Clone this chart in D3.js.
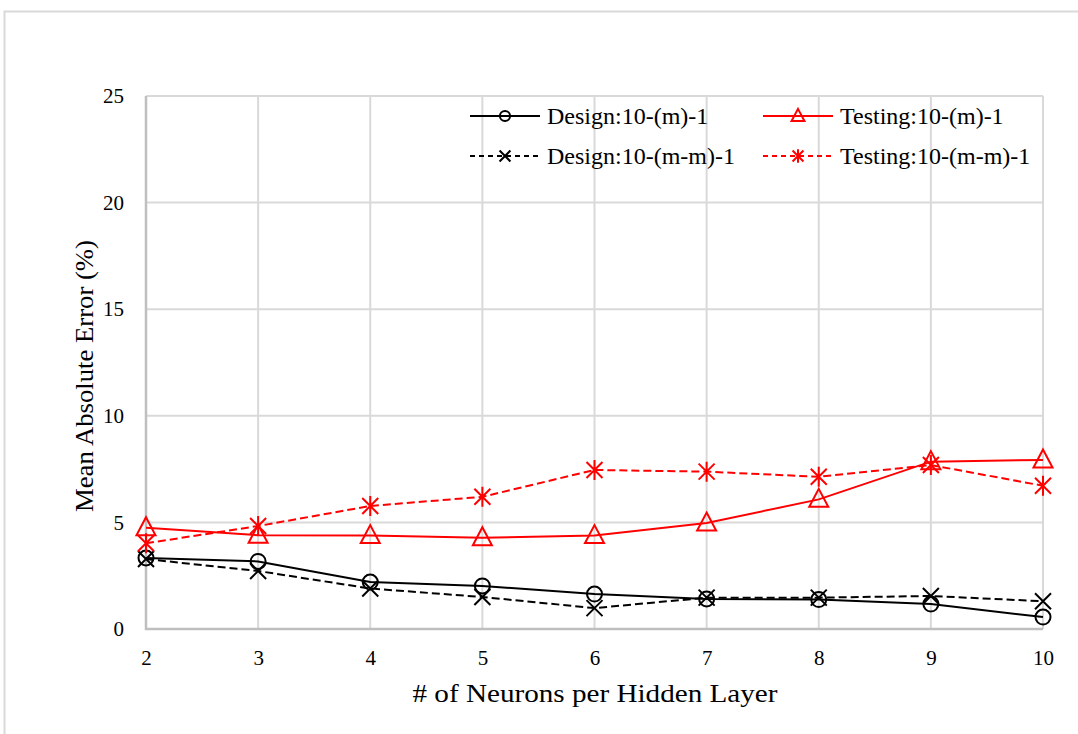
<!DOCTYPE html>
<html>
<head>
<meta charset="utf-8">
<script src="https://cdn.jsdelivr.net/npm/d3@7"></script>
<style>
  html, body { margin: 0; padding: 0; background: #fff; }
  svg { display: block; }
  text { font-family: "Liberation Serif", "Times New Roman", serif; fill: #000; }
</style>
</head>
<body>
<svg id="chart" width="1078" height="734"></svg>
<script>
// Hidden-layer sizes (x) and mean absolute error (%) for each network variant
const neurons = [2, 3, 4, 5, 6, 7, 8, 9, 10];
const designSingle  = [3.33, 3.17, 2.20, 2.02, 1.64, 1.41, 1.38, 1.17, 0.56];
const designDouble  = [3.28, 2.72, 1.90, 1.50, 0.98, 1.47, 1.47, 1.55, 1.30];
const testSingle    = [4.75, 4.40, 4.38, 4.28, 4.38, 4.97, 6.08, 7.85, 7.93];
const testDouble    = [4.02, 4.83, 5.77, 6.20, 7.46, 7.38, 7.14, 7.69, 6.72];
const yTicks = [0, 5, 10, 15, 20, 25];
const seriesNames = ["Design:10-(m)-1", "Testing:10-(m)-1", "Design:10-(m-m)-1", "Testing:10-(m-m)-1"];

const series = [
  { name: seriesNames[0], values: designSingle, color: "#000", dash: null,  marker: "circle" },
  { name: seriesNames[1], values: testSingle,   color: "#ff0000", dash: null,  marker: "triangle" },
  { name: seriesNames[2], values: designDouble, color: "#000", dash: "8,4", marker: "cross" },
  { name: seriesNames[3], values: testDouble,   color: "#ff0000", dash: "8,4", marker: "asterisk" }
];

const FONT = "Liberation Serif, Times New Roman, serif";
const svg = d3.select("#chart");

// outer chart frame
svg.append("path")
  .attr("d", "M4.5,734 L4.5,11.5 L1078,11.5")
  .attr("fill", "none").attr("stroke", "#d9d9d9").attr("stroke-width", 2);

const x = d3.scaleLinear().domain([2, 10]).range([146, 1043]);
const y = d3.scaleLinear().domain([0, 25]).range([629, 96]);

// grid lines
const grid = svg.append("g");
grid.selectAll("line.v").data(neurons).join("line")
  .attr("x1", d => x(d)).attr("x2", d => x(d))
  .attr("y1", y(25)).attr("y2", y(0))
  .attr("stroke", "#d9d9d9").attr("stroke-width", 2);
grid.selectAll("line.h").data(yTicks).join("line")
  .attr("x1", x(2)).attr("x2", x(10))
  .attr("y1", d => y(d)).attr("y2", d => y(d))
  .attr("stroke", "#d9d9d9").attr("stroke-width", 2);

// axis lines
svg.append("line").attr("x1", x(2)).attr("x2", x(2)).attr("y1", y(25)).attr("y2", y(0) + 1)
  .attr("stroke", "#bfbfbf").attr("stroke-width", 2.5);
svg.append("line").attr("x1", x(2) - 1).attr("x2", x(10)).attr("y1", y(0)).attr("y2", y(0))
  .attr("stroke", "#bfbfbf").attr("stroke-width", 2.5);

// tick labels via d3 axes (domain & tick marks hidden)
const xAxis = svg.append("g").attr("transform", `translate(0,${y(0)})`)
  .call(d3.axisBottom(x).tickValues(neurons).tickSize(0).tickPadding(21).tickFormat(d3.format("d")));
const yAxis = svg.append("g").attr("transform", `translate(${x(2)},0)`)
  .call(d3.axisLeft(y).tickValues(yTicks).tickSize(0).tickPadding(22).tickFormat(d3.format("d")));
[xAxis, yAxis].forEach(a => {
  a.attr("font-family", FONT);
  a.select(".domain").remove();
  a.selectAll("text").attr("font-family", FONT).attr("font-size", 21).attr("fill", "#000");
});

// axis titles
svg.append("text").attr("x", 595).attr("y", 702).attr("text-anchor", "middle")
  .attr("font-family", FONT).attr("font-size", 26)
  .attr("textLength", 365).attr("lengthAdjust", "spacingAndGlyphs")
  .text("# of Neurons per Hidden Layer");
svg.append("text").attr("transform", "translate(93,376) rotate(-90)").attr("text-anchor", "middle")
  .attr("font-family", FONT).attr("font-size", 26)
  .attr("textLength", 272).attr("lengthAdjust", "spacingAndGlyphs")
  .text("Mean Absolute Error (%)");

// marker drawing; k scales the marker size
function drawMarker(g, type, color, k) {
  const sw = 2;
  if (type === "circle") {
    g.append("circle").attr("r", 7.5 * k).attr("fill", "none").attr("stroke", color).attr("stroke-width", sw);
  } else if (type === "triangle") {
    g.append("path").attr("d", `M0,${-10.5 * k} L${9.5 * k},${7.5 * k} L${-9.5 * k},${7.5 * k} Z`)
      .attr("fill", "none").attr("stroke", color).attr("stroke-width", sw);
  } else if (type === "cross") {
    const a = 8 * k;
    g.append("path").attr("d", `M${-a},${-a} L${a},${a} M${-a},${a} L${a},${-a}`)
      .attr("stroke", color).attr("stroke-width", sw);
  } else if (type === "asterisk") {
    const a = 8 * k, b = 10 * k;
    g.append("path").attr("d", `M${-a},${-a} L${a},${a} M${-a},${a} L${a},${-a} M0,${-b} L0,${b}`)
      .attr("stroke", color).attr("stroke-width", sw);
  }
}

const line = d3.line().x((d, i) => x(neurons[i])).y(d => y(d));

// draw series in back-to-front order
const order = [series[0], series[2], series[1], series[3]];
order.forEach(s => {
  const g = svg.append("g");
  g.append("path").datum(s.values).attr("d", line)
    .attr("fill", "none").attr("stroke", s.color).attr("stroke-width", 2)
    .attr("stroke-dasharray", s.dash);
  s.values.forEach((v, i) => {
    const m = g.append("g").attr("transform", `translate(${x(neurons[i])},${y(v)})`);
    drawMarker(m, s.marker, s.color, 1);
  });
});

// legend
const legendPos = [
  { s: series[0], lx: 470, ly: 116 },
  { s: series[1], lx: 763, ly: 116 },
  { s: series[2], lx: 470, ly: 156 },
  { s: series[3], lx: 763, ly: 156 }
];
legendPos.forEach(p => {
  const g = svg.append("g").attr("transform", `translate(${p.lx},${p.ly})`);
  g.append("line").attr("x1", 0).attr("x2", 70).attr("y1", 0).attr("y2", 0)
    .attr("stroke", p.s.color).attr("stroke-width", 2).attr("stroke-dasharray", p.s.dash ? "5,4" : null);
  const m = g.append("g").attr("transform", "translate(35,0)");
  drawMarker(m, p.s.marker, p.s.color, 0.68);
  g.append("text").attr("x", 77).attr("y", 7.5).attr("font-family", FONT).attr("font-size", 24).text(p.s.name);
});
</script>
</body>
</html>
